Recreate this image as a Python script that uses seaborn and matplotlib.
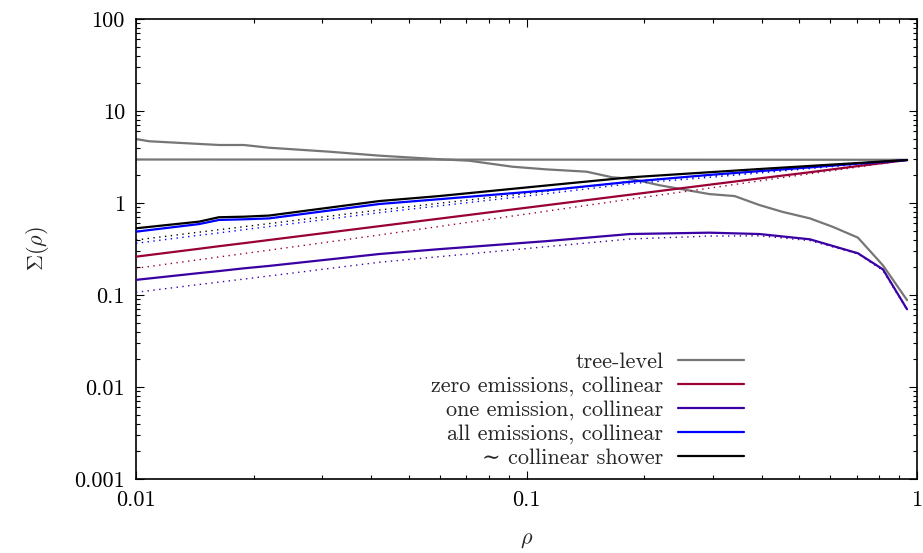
import numpy as np
import pandas as pd
import matplotlib
matplotlib.use("Agg")
import matplotlib.pyplot as plt
import seaborn as sns
from matplotlib.ticker import FixedLocator, FixedFormatter, LogLocator, NullFormatter
from matplotlib.lines import Line2D

# ---------------- data ----------------
x_tree = [0.01, 0.0108, 0.01633, 0.0189, 0.0219, 0.0313, 0.042, 0.0598, 0.0714, 0.092,
          0.1125, 0.1425, 0.166, 0.184, 0.219, 0.294, 0.341, 0.395, 0.453, 0.532,
          0.609, 0.706, 0.818, 0.943]
y_tree = [4.96, 4.69, 4.27, 4.27, 3.99, 3.61, 3.27, 2.99, 2.88, 2.48,
          2.32, 2.19, 1.90, 1.84, 1.56, 1.25, 1.19, 0.95, 0.80, 0.68,
          0.55, 0.42, 0.21, 0.088]
x_flat = [0.01, 0.943]
y_flat = [2.97, 2.95]

x_col = [0.01, 0.0145, 0.0163, 0.0189, 0.0219, 0.042, 0.0598, 0.1125, 0.184, 0.294,
         0.395, 0.532, 0.706, 0.818, 0.943]
zero_solid = [0.261, 0.318, 0.339, 0.366, 0.396, 0.560, 0.676, 0.946, 1.23, 1.58,
              1.85, 2.16, 2.52, 2.72, 2.93]
zero_dot = [0.195, 0.242, 0.259, 0.282, 0.307, 0.449, 0.556, 0.815, 1.10, 1.45,
            1.74, 2.08, 2.46, 2.69, 2.93]
one_solid = [0.146, 0.173, 0.182, 0.195, 0.207, 0.279, 0.315, 0.385, 0.46, 0.476,
             0.46, 0.403, 0.284, 0.19, 0.070]
one_dot = [0.107, 0.130, 0.138, 0.149, 0.161, 0.227, 0.261, 0.335, 0.406, 0.437,
           0.440, 0.39, 0.28, 0.185, 0.069]
all_solid = [0.488, 0.59, 0.654, 0.665, 0.68, 0.975, 1.10, 1.37, 1.70, 2.02,
             2.22, 2.44, 2.68, 2.80, 2.93]
all_dot = [0.365, 0.446, 0.473, 0.513, 0.554, 0.785, 0.931, 1.26, 1.62, 1.90,
           2.12, 2.37, 2.63, 2.78, 2.93]
shower_solid = [0.531, 0.627, 0.70, 0.71, 0.73, 1.05, 1.19, 1.55, 1.90, 2.16,
                2.34, 2.53, 2.72, 2.83, 2.93]
shower_dot = [0.396, 0.482, 0.512, 0.553, 0.597, 0.839, 0.993, 1.34, 1.72, 1.98,
              2.19, 2.42, 2.66, 2.79, 2.93]

labels = ["tree-level", "zero emissions, collinear", "one emission, collinear",
          "all emissions, collinear", "\u223c collinear shower"]
colors = ["#767676", "#9a0036", "#3a00a3", "#0000ff", "#000000"]

y_ticks = [0.001, 0.01, 0.1, 1, 10, 100]
y_ticklabels = ["0.001", "0.01", "0.1", "1", "10", "100"]
x_ticks = [0.01, 0.1, 1]
x_ticklabels = ["0.01", "0.1", "1"]

# ---------------- style ----------------
sns.set_style("ticks")
plt.rcParams["font.family"] = ["cmr10", "DejaVu Serif"]
plt.rcParams["mathtext.fontset"] = "cm"
plt.rcParams["axes.unicode_minus"] = False
plt.rcParams["axes.formatter.use_mathtext"] = True

FS = 16

fig = plt.figure(figsize=(9.23, 5.53), dpi=100)
ax = fig.add_axes([136 / 923, 1 - 479 / 553, (917 - 136) / 923, (479 - 19) / 553])

dot_dash = (1.0, 3.2)
solid_lw = 1.6
dot_lw = 1.0

def draw(x, y, color, dotted=False, z=2):
    df = pd.DataFrame({"x": x, "y": y})
    sns.lineplot(data=df, x="x", y="y", ax=ax, color=color,
                 lw=dot_lw if dotted else solid_lw, estimator=None,
                 sort=False, zorder=z)
    l = ax.lines[-1]
    if dotted:
        l.set_dashes(dot_dash)
    return l

# tree level
draw(x_flat, y_flat, colors[0], z=2)
draw(x_tree, y_tree, colors[0], z=2)
# dotted
draw(x_col, zero_dot, colors[1], dotted=True, z=3)
draw(x_col, one_dot, colors[2], dotted=True, z=3)
draw(x_col, shower_dot, colors[4], dotted=True, z=3)
draw(x_col, all_dot, colors[3], dotted=True, z=3)
# solid
draw(x_col, zero_solid, colors[1], z=4)
draw(x_col, one_solid, colors[2], z=4)
draw(x_col, all_solid, colors[3], z=4)
draw(x_col, shower_solid, colors[4], z=5)

ax.set_xscale("log")
ax.set_yscale("log")
ax.set_xlim(0.01, 1)
ax.set_ylim(0.001, 100)

ax.xaxis.set_major_locator(FixedLocator(x_ticks))
ax.xaxis.set_major_formatter(FixedFormatter(x_ticklabels))
ax.yaxis.set_major_locator(FixedLocator(y_ticks))
ax.yaxis.set_major_formatter(FixedFormatter(y_ticklabels))
ax.xaxis.set_minor_locator(LogLocator(base=10, subs=np.arange(2, 10), numticks=20))
ax.yaxis.set_minor_locator(LogLocator(base=10, subs=np.arange(2, 10), numticks=20))
ax.xaxis.set_minor_formatter(NullFormatter())
ax.yaxis.set_minor_formatter(NullFormatter())

ax.tick_params(which="both", direction="in", top=True, right=True, labelsize=FS,
               width=0.8, colors="black")
ax.tick_params(which="major", length=5.5, pad=8)
ax.tick_params(which="minor", length=3)
for s in ax.spines.values():
    s.set_linewidth(1.2)
    s.set_color("black")

ax.set_xlabel(r"$\rho$", fontsize=FS, labelpad=15)
ax.set_ylabel(r"$\Sigma(\rho)$", fontsize=FS, labelpad=17)

handles = [Line2D([], [], color=c, lw=solid_lw) for c in colors]
leg = ax.legend(handles, labels, loc="lower right", bbox_to_anchor=(0.779, 0.025),
                frameon=False, markerfirst=False, fontsize=FS, handlelength=2.97,
                handletextpad=0.68, labelspacing=0.18, borderpad=0, borderaxespad=0)

fig.savefig("out.png", dpi=100)
